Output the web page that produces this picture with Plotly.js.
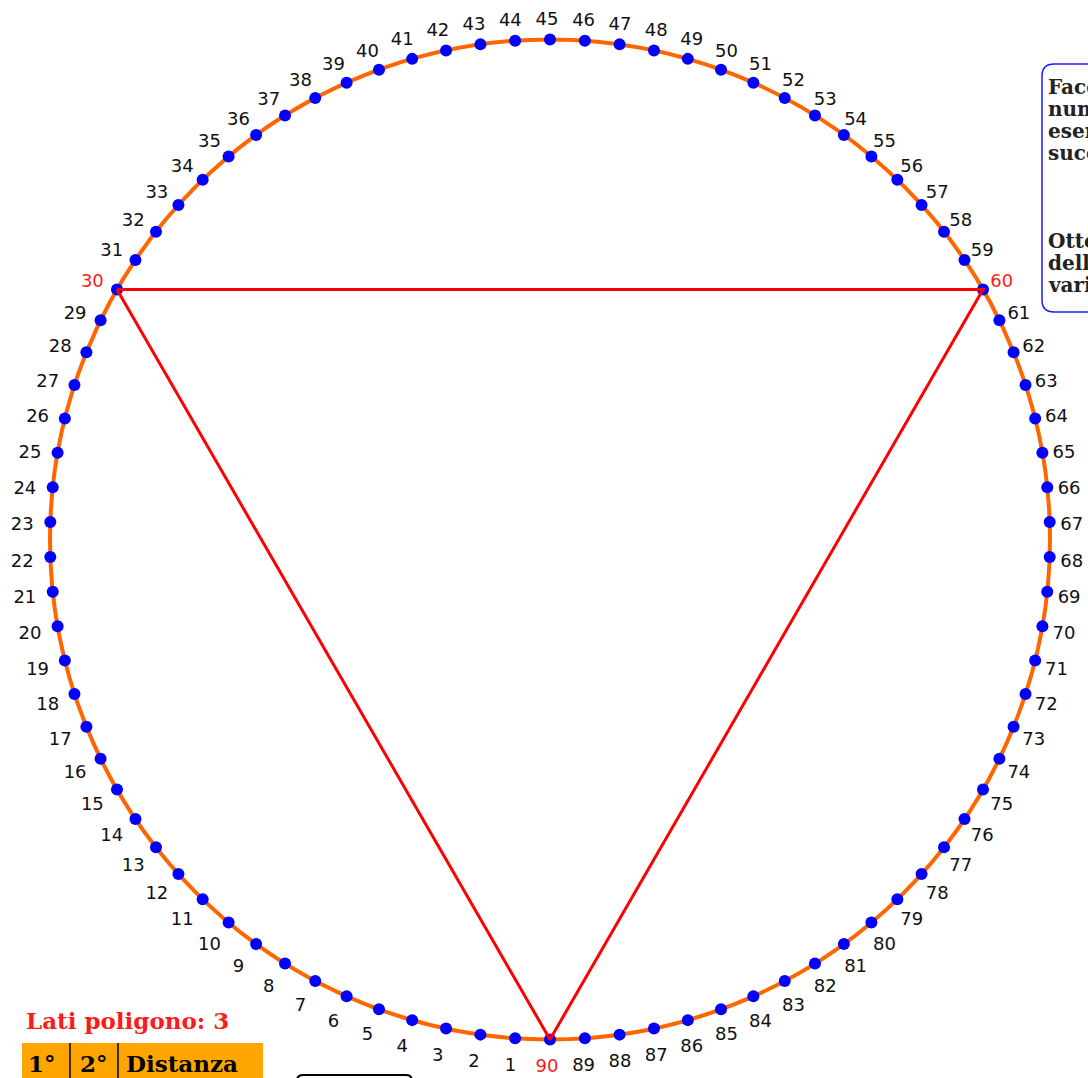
<!DOCTYPE html>
<html><head><meta charset="utf-8">
<script src="https://cdn.plot.ly/plotly-3.0.1.min.js"></script>
<style>html,body{margin:0;padding:0;background:#fff;overflow:hidden}</style>
</head><body><div id="chart" style="width:1088px;height:1078px"></div>
<script>
// ---- data ----
const nPoints = 90;
const pointLabels = ["1","2","3","4","5","6","7","8","9","10","11","12","13","14","15","16","17","18","19","20",
  "21","22","23","24","25","26","27","28","29","30","31","32","33","34","35","36","37","38","39","40",
  "41","42","43","44","45","46","47","48","49","50","51","52","53","54","55","56","57","58","59","60",
  "61","62","63","64","65","66","67","68","69","70","71","72","73","74","75","76","77","78","79","80",
  "81","82","83","84","85","86","87","88","89","90"];
const polygonSides = 3;
const polygonVertices = [30, 60, 90];
const sidesTitle = "Lati poligono: ";
const tableHeader = ["1°", "2°", "Distanza"];
const infoLines = ["Facendo clic sui", "numeri, per", "esempio", "successivo", "", "", "", "Otterrai", "delle", "varie"];

// ---- geometry helpers ----
const W = 1088, H = 1078;
const CX = 550, CY = 539.5, R = 500;
function ang(k){ return (-90 - 360 / nPoints * k) * Math.PI / 180; }
function PX(x){ return x / W; }
function PY(y){ return 1 - y / H; }

const ptX = pointLabels.map((l, i) => Math.cos(ang(i + 1)));
const ptY = pointLabels.map((l, i) => Math.sin(ang(i + 1)));
const lblX = pointLabels.map((l, i) => 0.05 * Math.cos(ang(i + 1)) - 0.006 + ptX[i]);
const lblY = pointLabels.map((l, i) => 0.047 * Math.sin(ang(i + 1)) - 0.009 + ptY[i]);
const lblColor = pointLabels.map((l, i) => polygonVertices.includes(i + 1) ? '#ff1a1a' : '#111111');

const polyX = polygonVertices.concat([polygonVertices[0]]).map(k => Math.cos(ang(k)));
const polyY = polygonVertices.concat([polygonVertices[0]]).map(k => Math.sin(ang(k)));

const traces = [
  {x: ptX, y: ptY, mode: 'markers', type: 'scatter', hoverinfo: 'none',
   marker: {color: '#0000ff', size: 12, line: {width: 0}}},
  {x: polyX, y: polyY, mode: 'lines', type: 'scatter', hoverinfo: 'none',
   line: {color: '#ff0000', width: 3}},
  {x: lblX, y: lblY, mode: 'text', type: 'scatter', text: pointLabels, hoverinfo: 'none',
   textposition: 'middle center',
   textfont: {family: 'DejaVu Sans', size: 18, color: lblColor}}
];

function roundRectPath(x0, y0, x1, y1, r){
  const a = (x, y) => PX(x) + ',' + PY(y);
  return 'M' + a(x0, y0 + r) + ' Q' + a(x0, y0) + ' ' + a(x0 + r, y0) +
         ' L' + a(x1 - r, y0) + ' Q' + a(x1, y0) + ' ' + a(x1, y0 + r) +
         ' L' + a(x1, y1 - r) + ' Q' + a(x1, y1) + ' ' + a(x1 - r, y1) +
         ' L' + a(x0 + r, y1) + ' Q' + a(x0, y1) + ' ' + a(x0, y1 - r) + ' Z';
}

const shapes = [
  {type: 'circle', xref: 'x', yref: 'y', x0: -1, x1: 1, y0: -1, y1: 1, layer: 'below',
   line: {color: '#ff6600', width: 4}},
  {type: 'path', xref: 'paper', yref: 'paper', path: roundRectPath(1042, 64, 1130, 312, 12),
   line: {color: '#1a1aff', width: 1.5}},
  {type: 'rect', xref: 'paper', yref: 'paper', x0: PX(22), x1: PX(263), y0: PY(1043), y1: PY(1100),
   fillcolor: '#ffa500', line: {width: 0}},
  {type: 'line', xref: 'paper', yref: 'paper', x0: PX(70), x1: PX(70), y0: PY(1043), y1: PY(1100),
   line: {color: '#000', width: 1.5}},
  {type: 'line', xref: 'paper', yref: 'paper', x0: PX(118), x1: PX(118), y0: PY(1043), y1: PY(1100),
   line: {color: '#000', width: 1.5}},
  {type: 'path', xref: 'paper', yref: 'paper', path: roundRectPath(297, 1075, 412, 1110, 6),
   line: {color: '#000', width: 2}}
];

const serif = 'DejaVu Serif';
const annotations = [
  {xref: 'paper', yref: 'paper', x: PX(24), y: PY(1020), xanchor: 'left', yanchor: 'middle',
   showarrow: false, text: '<b>' + sidesTitle + polygonSides + '</b>',
   font: {family: serif, size: 23, color: '#ff1a1a'}},
  {xref: 'paper', yref: 'paper', x: PX(42), y: PY(1063), xanchor: 'center', yanchor: 'middle',
   showarrow: false, text: '<b>' + tableHeader[0] + '</b>', font: {family: serif, size: 23, color: '#000'}},
  {xref: 'paper', yref: 'paper', x: PX(94), y: PY(1063), xanchor: 'center', yanchor: 'middle',
   showarrow: false, text: '<b>' + tableHeader[1] + '</b>', font: {family: serif, size: 23, color: '#000'}},
  {xref: 'paper', yref: 'paper', x: PX(124), y: PY(1063), xanchor: 'left', yanchor: 'middle',
   showarrow: false, text: '<b>' + tableHeader[2] + '</b>', font: {family: serif, size: 23, color: '#000'}}
];
infoLines.forEach((t, i) => {
  if (!t) return;
  annotations.push({xref: 'paper', yref: 'paper', x: PX(1046), y: PY(87 + 22 * i),
    xanchor: 'left', yanchor: 'middle', align: 'left', showarrow: false,
    text: '<b>' + t + '</b>', font: {family: serif, size: 20, color: '#222'}});
});

const layout = {
  width: W, height: H, margin: {l: 0, r: 0, t: 0, b: 0},
  paper_bgcolor: '#fff', plot_bgcolor: '#fff', showlegend: false,
  xaxis: {range: [(0 - CX) / R, (W - CX) / R], visible: false, fixedrange: true},
  yaxis: {range: [(CY - H) / R, CY / R], visible: false, fixedrange: true},
  shapes: shapes, annotations: annotations
};

Plotly.newPlot('chart', traces, layout, {displayModeBar: false, staticPlot: true});
</script></body></html>
